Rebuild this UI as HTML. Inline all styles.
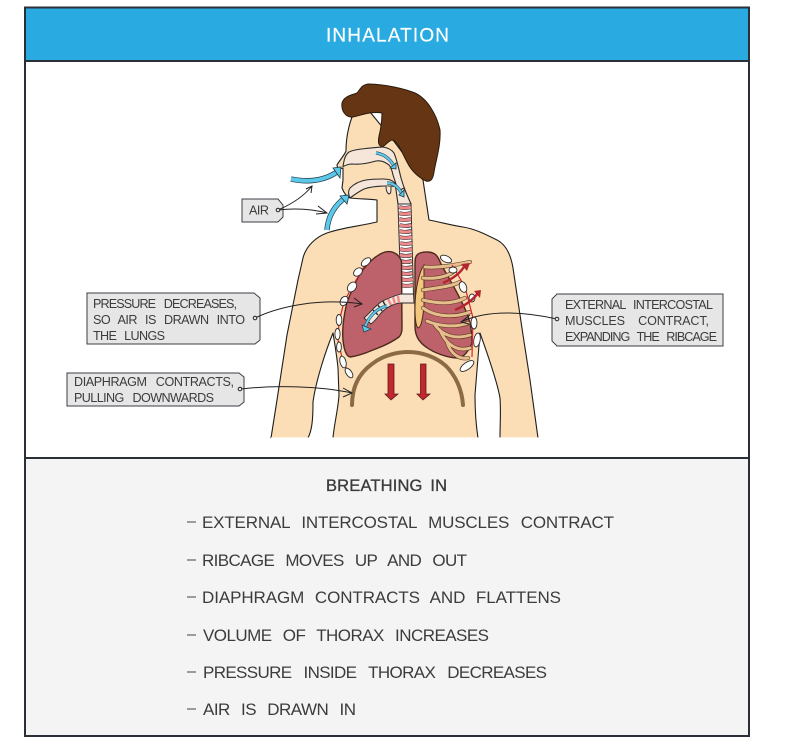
<!DOCTYPE html>
<html><head><meta charset="utf-8"><style>
html,body{margin:0;padding:0;background:#fff}
svg{display:block}
text{font-family:"Liberation Sans",sans-serif;fill:#3c3c3c}
.l{font-size:12.6px}
.m{font-size:17px}
</style></head><body>
<svg width="796" height="747" viewBox="0 0 796 747" xmlns="http://www.w3.org/2000/svg">
<rect width="796" height="747" fill="#fff"/>
<rect x="25.5" y="61" width="723" height="397" fill="#fff"/>
<rect x="25.5" y="458" width="723" height="278" fill="#f4f4f4"/>
<rect x="25.5" y="8" width="723" height="53" fill="#29abe2"/>
<rect x="25" y="7.5" width="724" height="728.5" fill="none" stroke="#2b3038" stroke-width="2"/>
<line x1="25" y1="61" x2="749" y2="61" stroke="#2b3038" stroke-width="2"/>
<line x1="25" y1="458" x2="749" y2="458" stroke="#2b3038" stroke-width="2"/>
<text x="326" y="41.5" font-size="19" textLength="123" lengthAdjust="spacing" style="fill:#fff;stroke:#fff;stroke-width:.2">INHALATION</text>

<!-- body -->
<path d="M352 117 C348 128 346 140 346 151 C344 156 339 161 337 165 C337 168 340 169 343 168 L343 180 L342 188 C344 193 347 197 350 198 C360 199 368 199 377 200 L377 222 C360 226 340 228 327 233 C316 237 306 246 303 258 L298 280 L287 335 L277 400 L271 438 L308 438 C312 430 313 420 313 402 C316 380 326 350 333 333 C335 345 337 358 338 368 L339 395 C338 410 334 425 333 438 L478 438 C476 425 475 410 475 395 L480 333 C486 350 497 380 500 398 C501 412 500 425 500 438 L538 438 L530 380 L523 335 L513 268 C510 250 503 243 497 240 C485 234 475 229 463 227 C450 225 440 222 429 220 L423 180 L393 140 L370 112 Z" fill="#fbdeb6" stroke="#1e1e1e" stroke-width="1.1" stroke-linejoin="round"/>
<rect x="271" y="437.4" width="268" height="3" fill="#fff"/>
<!-- hair -->
<path d="M342 103 C344 96 352 95 357 93 C361 88 362 85 368 84 C385 84 405 89 415 93 C428 99 437 116 440 130 C441 145 436 160 434 172 C433 180 430 182 426 181 C418 177 411 170 407 162 C402 153 398 141 392 140 C388 141 385 146 382 147 C378 145 378 142 379 136 C381 128 382 120 382 113 C372 111 362 115 353 117 C346 118 341 111 342 103 Z" fill="#663614" stroke="#2a1a0c" stroke-width="1"/>
<!-- airway -->
<path d="M343 166.500 C344 160 345 155 349 152 C353 150 360 149 366 148.500 C372 148 378 147 383 147 C389 148 392 150 394 153 C397 160 399 170 401 178 C404 188 407 196 411 204 L398 204 C398 196 397 189 396 184 L393 175 C392 170 391 167 389 165 C385 162 381 160 376 161 C369 163 361 165 352 164 C349 164 346 165 343 166.500 Z" fill="#f6e6da" stroke="#2b2b2b" stroke-width="1.1" stroke-linejoin="round"/>
<path d="M350 198 C348 194 348 191 350 188 C354 184 360 181 366 180 C372 179 378 179 383 179 C389 179 392 180 395 183 L398 204 L411 204 L404 188 L400 190 L397 187 C394 186 390 186 386 186 C378 186 370 187 364 189 C358 192 354 195 350 198 Z" fill="#f6e6da" stroke="#2b2b2b" stroke-width="1.1" stroke-linejoin="round"/>
<path d="M386 186 C386 190 387 193 389 194 C391 194 391 191 391 187" fill="#f6e6da" stroke="#2b2b2b" stroke-width="1"/>
<!-- trachea -->
<path d="M398 204 L411 204 L413.500 295 L401 295 Z" fill="#fff" stroke="#2b2b2b" stroke-width="1"/>
<g fill="none" stroke="#333" stroke-width="4.100" id="r">
<path d="M399 207 Q404 209 411 207"/><path d="M399 213 Q404 215 411 213"/><path d="M399 219 Q404 221 411 219"/><path d="M399.500 225 Q405 227 411.500 225"/><path d="M399.500 231 Q405 233 411.500 231"/><path d="M399.500 237 Q405 239 412 237"/><path d="M400 243 Q405 245 412 243"/><path d="M400 249 Q405 251 412 249"/><path d="M400 255 Q406 257 412 255"/><path d="M400 261 Q406 263 412 261"/><path d="M400.500 267 Q406 269 412.500 267"/><path d="M400.500 273 Q406 275 412.500 273"/><path d="M400.500 279 Q406 281 413 279"/><path d="M401 285 Q406 287 413 285"/>
</g>
<g fill="none" stroke="#ee8a8c" stroke-width="3">
<path d="M399 207 Q404 209 411 207"/><path d="M399 213 Q404 215 411 213"/><path d="M399 219 Q404 221 411 219"/><path d="M399.500 225 Q405 227 411.500 225"/><path d="M399.500 231 Q405 233 411.500 231"/><path d="M399.500 237 Q405 239 412 237"/><path d="M400 243 Q405 245 412 243"/><path d="M400 249 Q405 251 412 249"/><path d="M400 255 Q406 257 412 255"/><path d="M400 261 Q406 263 412 261"/><path d="M400.500 267 Q406 269 412.500 267"/><path d="M400.500 273 Q406 275 412.500 273"/><path d="M400.500 279 Q406 281 413 279"/><path d="M401 285 Q406 287 413 285"/>
</g>
<!-- lungs -->
<path d="M385 252 C376 255 368 263 362 271 C355 281 351 293 347 302 C344 315 342 330 343 340 C344 350 346 356 350 357 C358 356 366 353 373 350 C384 346 392 342 399 337 C401 335 402 332 402 328 L401.500 262 C400 255 393 250 385 252 Z" fill="#bd616b" stroke="#4d2a1c" stroke-width="1.4"/>
<path d="M420 253 C426 251 433 252 436 255 C439 258 440 262 442 266 C450 280 462 300 468 316 C471 325 472 335 472 343 C468 352 464 357 458 358 C448 358 434 353 426 347 C419 342 415 336 415 326 L415 262 C415 257 417 254 420 253 Z" fill="#bd616b" stroke="#4d2a1c" stroke-width="1.4"/>
<!-- bronchus -->
<path d="M401 294 L413.500 294 L414 303 L400 303 C392 304 386 308 381 313 C378 317 375 321 371 324 L364 318 C370 313 375 306 381 302 C388 298 394 296 401 294 Z" fill="#f6e6da" stroke="#2b2b2b" stroke-width=".9"/>
<g stroke="#ee8a8c" stroke-width="2.400"><line x1="398" y1="296" x2="399" y2="303"/><line x1="393" y1="297" x2="395" y2="304"/><line x1="388" y1="299" x2="391" y2="305"/></g>
<g stroke="#333" stroke-width="1.500"><line x1="383" y1="301" x2="386" y2="307"/><line x1="378" y1="305" x2="382" y2="311"/><line x1="373" y1="310" x2="378" y2="315"/></g>
<path d="M387 306 C377 308 369 316 365 327" fill="none" stroke="#21404d" stroke-width="3"/>
<path d="M387 306 C377 308 369 316 365 327" fill="none" stroke="#5cc8ea" stroke-width="2"/>
<path d="M362 325 L371 329 L364 332 Z" fill="#5cc8ea" stroke="#21404d" stroke-width=".7"/>
<!-- sternum -->
<path d="M424 265 C419 272 415 290 415 308 C415 318 416 326 418 328 C421 328 423 318 424 305 Z" fill="#f2c77e" stroke="#4d2a1c" stroke-width="1"/>
<!-- left ribs white and red -->
<path d="M368 260 L352 287 L344 302 L339 322 L338 340 L343 362 L351 376" fill="none" stroke="#d8232a" stroke-width="1.200"/>
<g fill="#fff" stroke="#2b2b2b" stroke-width=".9">
<ellipse cx="366" cy="262" rx="3.200" ry="5.500" transform="rotate(50 366 262)"/><ellipse cx="358" cy="272" rx="3.500" ry="5" transform="rotate(50 358 272)"/><ellipse cx="352" cy="287" rx="4" ry="5.500" transform="rotate(40 352 287)"/><ellipse cx="344" cy="301" rx="3.500" ry="5" transform="rotate(30 344 301)"/><ellipse cx="339" cy="320" rx="2.800" ry="5.500"/><ellipse cx="337.500" cy="334" rx="2.600" ry="5.500"/><ellipse cx="339" cy="347" rx="2.400" ry="5"/><ellipse cx="343" cy="362" rx="3" ry="6" transform="rotate(-15 343 362)"/><ellipse cx="349" cy="373" rx="2.800" ry="5.500" transform="rotate(-35 349 373)"/>
</g>
<!-- right ribs -->
<g fill="none" stroke="#5a3a20" stroke-width="4.200" stroke-linecap="round">
<path d="M447 342 C450 352 458 360 468 358"/><path d="M440 330 C446 345 458 352 470 348"/><path d="M435 325 C442 335 455 340 470 335"/><path d="M427 321 C438 326 455 328 468 323"/><path d="M423 308 C435 317 455 318 470 312"/><path d="M423 300 C435 303 452 305 465 298"/><path d="M423 290 C435 288 450 287 460 282"/><path d="M423 278 C435 279 446 277 453 272"/><path d="M425 267 C440 268 455 265 470 262"/>
</g>
<g fill="none" stroke="#e6bd8d" stroke-width="3" stroke-linecap="round">
<path d="M447 342 C450 352 458 360 468 358"/><path d="M440 330 C446 345 458 352 470 348"/><path d="M435 325 C442 335 455 340 470 335"/><path d="M427 321 C438 326 455 328 468 323"/><path d="M423 308 C435 317 455 318 470 312"/><path d="M423 300 C435 303 452 305 465 298"/><path d="M423 290 C435 288 450 287 460 282"/><path d="M423 278 C435 279 446 277 453 272"/><path d="M425 267 C440 268 455 265 470 262"/>
</g>
<path d="M452 265 L465 287 L473 318 L472 357" fill="none" stroke="#d8232a" stroke-width="1.200"/>
<g fill="#fff" stroke="#2b2b2b" stroke-width=".9">
<ellipse cx="446" cy="259" rx="6" ry="3.200" transform="rotate(25 446 259)"/><ellipse cx="453" cy="270" rx="4" ry="3"/><ellipse cx="463" cy="287" rx="3.500" ry="5.500" transform="rotate(-20 463 287)"/><ellipse cx="472" cy="298" rx="3" ry="4"/><ellipse cx="474" cy="323" rx="3" ry="6"/><ellipse cx="477" cy="340" rx="3.200" ry="7" transform="rotate(10 477 340)"/><ellipse cx="467" cy="366" rx="3.500" ry="8" transform="rotate(55 467 366)"/>
</g>
<!-- red arrows -->
<g fill="none" stroke="#b3262e" stroke-width="2.500"><path d="M443 283 C452 279 461 273 465 265"/><path d="M455 310 C464 306 473 300 478 293"/></g>
<path d="M461 264 L470 263 L467 271 Z M474 291 L481 290 L480 298 Z" fill="#b3262e"/>
<!-- diaphragm -->
<path d="M352 405 C352 388 358 374 372 364 C382 356 396 352 408 352 C422 352 436 357 446 366 C456 376 462 390 463 405" fill="none" stroke="#8c6a45" stroke-width="4" stroke-linecap="round"/>
<!-- down arrows -->
<path d="M388 364 L394 364 L394 394 L398 394 L391 400 L385 394 L388 394 Z M420.500 364 L426 364 L426 394 L430 394 L423 400 L417 394 L420.500 394 Z" fill="#c1272d" stroke="#5e1a1d" stroke-width=".8"/>
<!-- blue air arrows -->
<g fill="none" stroke-linecap="butt">
<path d="M291 179 C310 183 325 180 337 172" stroke="#1f3a45" stroke-width="5.400"/><path d="M291 179 C310 183 325 180 337 172" stroke="#5cc8ea" stroke-width="4"/>
<path d="M327 230 C328 216 335 205 346 197" stroke="#1f3a45" stroke-width="5.400"/><path d="M327 230 C328 216 335 205 346 197" stroke="#5cc8ea" stroke-width="4"/>
<path d="M376 153 C384 154 390 159 394 166" stroke="#1f3a45" stroke-width="3.200"/><path d="M376 153 C384 154 390 159 394 166" stroke="#5cc8ea" stroke-width="2.200"/>
<path d="M387 183 C394 183 399 188 402 194" stroke="#1f3a45" stroke-width="3.200"/><path d="M387 183 C394 183 399 188 402 194" stroke="#5cc8ea" stroke-width="2.200"/>
</g>
<g fill="#5cc8ea" stroke="#1f3a45" stroke-width=".8"><path d="M333 168 L341 167 L340 178 Z"/><path d="M340 196 L349 195 L347 204 Z"/><path d="M390 168 L396 163 L396 169 Z"/><path d="M399 195 L404 190 L404 197 Z"/></g>

<!-- labels -->
<g fill="#e6e6e6" stroke="#3a3f44" stroke-width="1">
<path d="M242 199 H278 L283 205 V217 L278 222 H242 Z"/>
<path d="M87 293 H254 L260 298 V340 L255 344 H87 Z"/>
<path d="M67 373 H239 L244 377 V402 L239 406 H67 Z"/>
<path d="M557 294 H723 V346 H557 L552 341 V299 Z"/>
</g>
<text class="l" x="249" y="214.500" textLength="20" lengthAdjust="spacing">AIR</text>
<text class="l" x="93" y="308" textLength="144" lengthAdjust="spacing" word-spacing="6">PRESSURE DECREASES,</text>
<text class="l" x="93" y="324" textLength="152" lengthAdjust="spacing" word-spacing="5">SO AIR IS DRAWN INTO</text>
<text class="l" x="93" y="340" textLength="72" lengthAdjust="spacing" word-spacing="5">THE LUNGS</text>
<text class="l" x="74" y="386" textLength="160" lengthAdjust="spacing" word-spacing="6">DIAPHRAGM CONTRACTS,</text>
<text class="l" x="74" y="402" textLength="140" lengthAdjust="spacing" word-spacing="6">PULLING DOWNWARDS</text>
<text class="l" x="565" y="309" textLength="148" lengthAdjust="spacing" word-spacing="5">EXTERNAL INTERCOSTAL</text>
<text class="l" x="565" y="325" textLength="144" lengthAdjust="spacing" word-spacing="10">MUSCLES CONTRACT,</text>
<text class="l" x="565" y="341" textLength="152" lengthAdjust="spacing" word-spacing="5">EXPANDING THE RIBCAGE</text>

<!-- connectors -->
<g fill="none" stroke="#222" stroke-width="1">
<path d="M278 210 C292 204 304 196 312 186 M306 189 L312 186 L311 193"/>
<path d="M278 210 C295 208 312 209 327 213 M318 206 L327 213 L316 214"/>
<path d="M255 318 C280 306 320 298 362 304 M354 298 L362 304 L354 307"/>
<path d="M241 389 C275 385 320 386 352 393 M343 388 L352 393 L343 397"/>
<path d="M557 319 C530 313 490 308 461 322 M470 315 L461 322 L469 324"/>
</g>
<g fill="#e6e6e6" stroke="#222" stroke-width="1"><circle cx="278" cy="210" r="1.800"/><circle cx="255" cy="318" r="1.800"/><circle cx="240" cy="389" r="1.800"/><circle cx="557" cy="319" r="1.800"/></g>

<!-- text block -->
<text x="326" y="491" font-size="16.500" textLength="121" lengthAdjust="spacing" style="stroke:#333;stroke-width:.3" word-spacing="3">BREATHING IN</text>
<g stroke="#444" stroke-width="1"><line x1="187" y1="522" x2="196" y2="522"/><line x1="187" y1="560" x2="196" y2="560"/><line x1="187" y1="597" x2="196" y2="597"/><line x1="187" y1="635" x2="196" y2="635"/><line x1="187" y1="672" x2="196" y2="672"/><line x1="187" y1="709" x2="196" y2="709"/></g>
<text class="m" x="202" y="528" textLength="412" lengthAdjust="spacing" word-spacing="7">EXTERNAL INTERCOSTAL MUSCLES CONTRACT</text>
<text class="m" x="202" y="566" textLength="265" lengthAdjust="spacing" word-spacing="7">RIBCAGE MOVES UP AND OUT</text>
<text class="m" x="202" y="603" textLength="359" lengthAdjust="spacing" word-spacing="6">DIAPHRAGM CONTRACTS AND FLATTENS</text>
<text class="m" x="203" y="641" textLength="286" lengthAdjust="spacing" word-spacing="7">VOLUME OF THORAX INCREASES</text>
<text class="m" x="203" y="678" textLength="344" lengthAdjust="spacing" word-spacing="8">PRESSURE INSIDE THORAX DECREASES</text>
<text class="m" x="203" y="715" textLength="153" lengthAdjust="spacing" word-spacing="7">AIR IS DRAWN IN</text>
</svg>
</body></html>
